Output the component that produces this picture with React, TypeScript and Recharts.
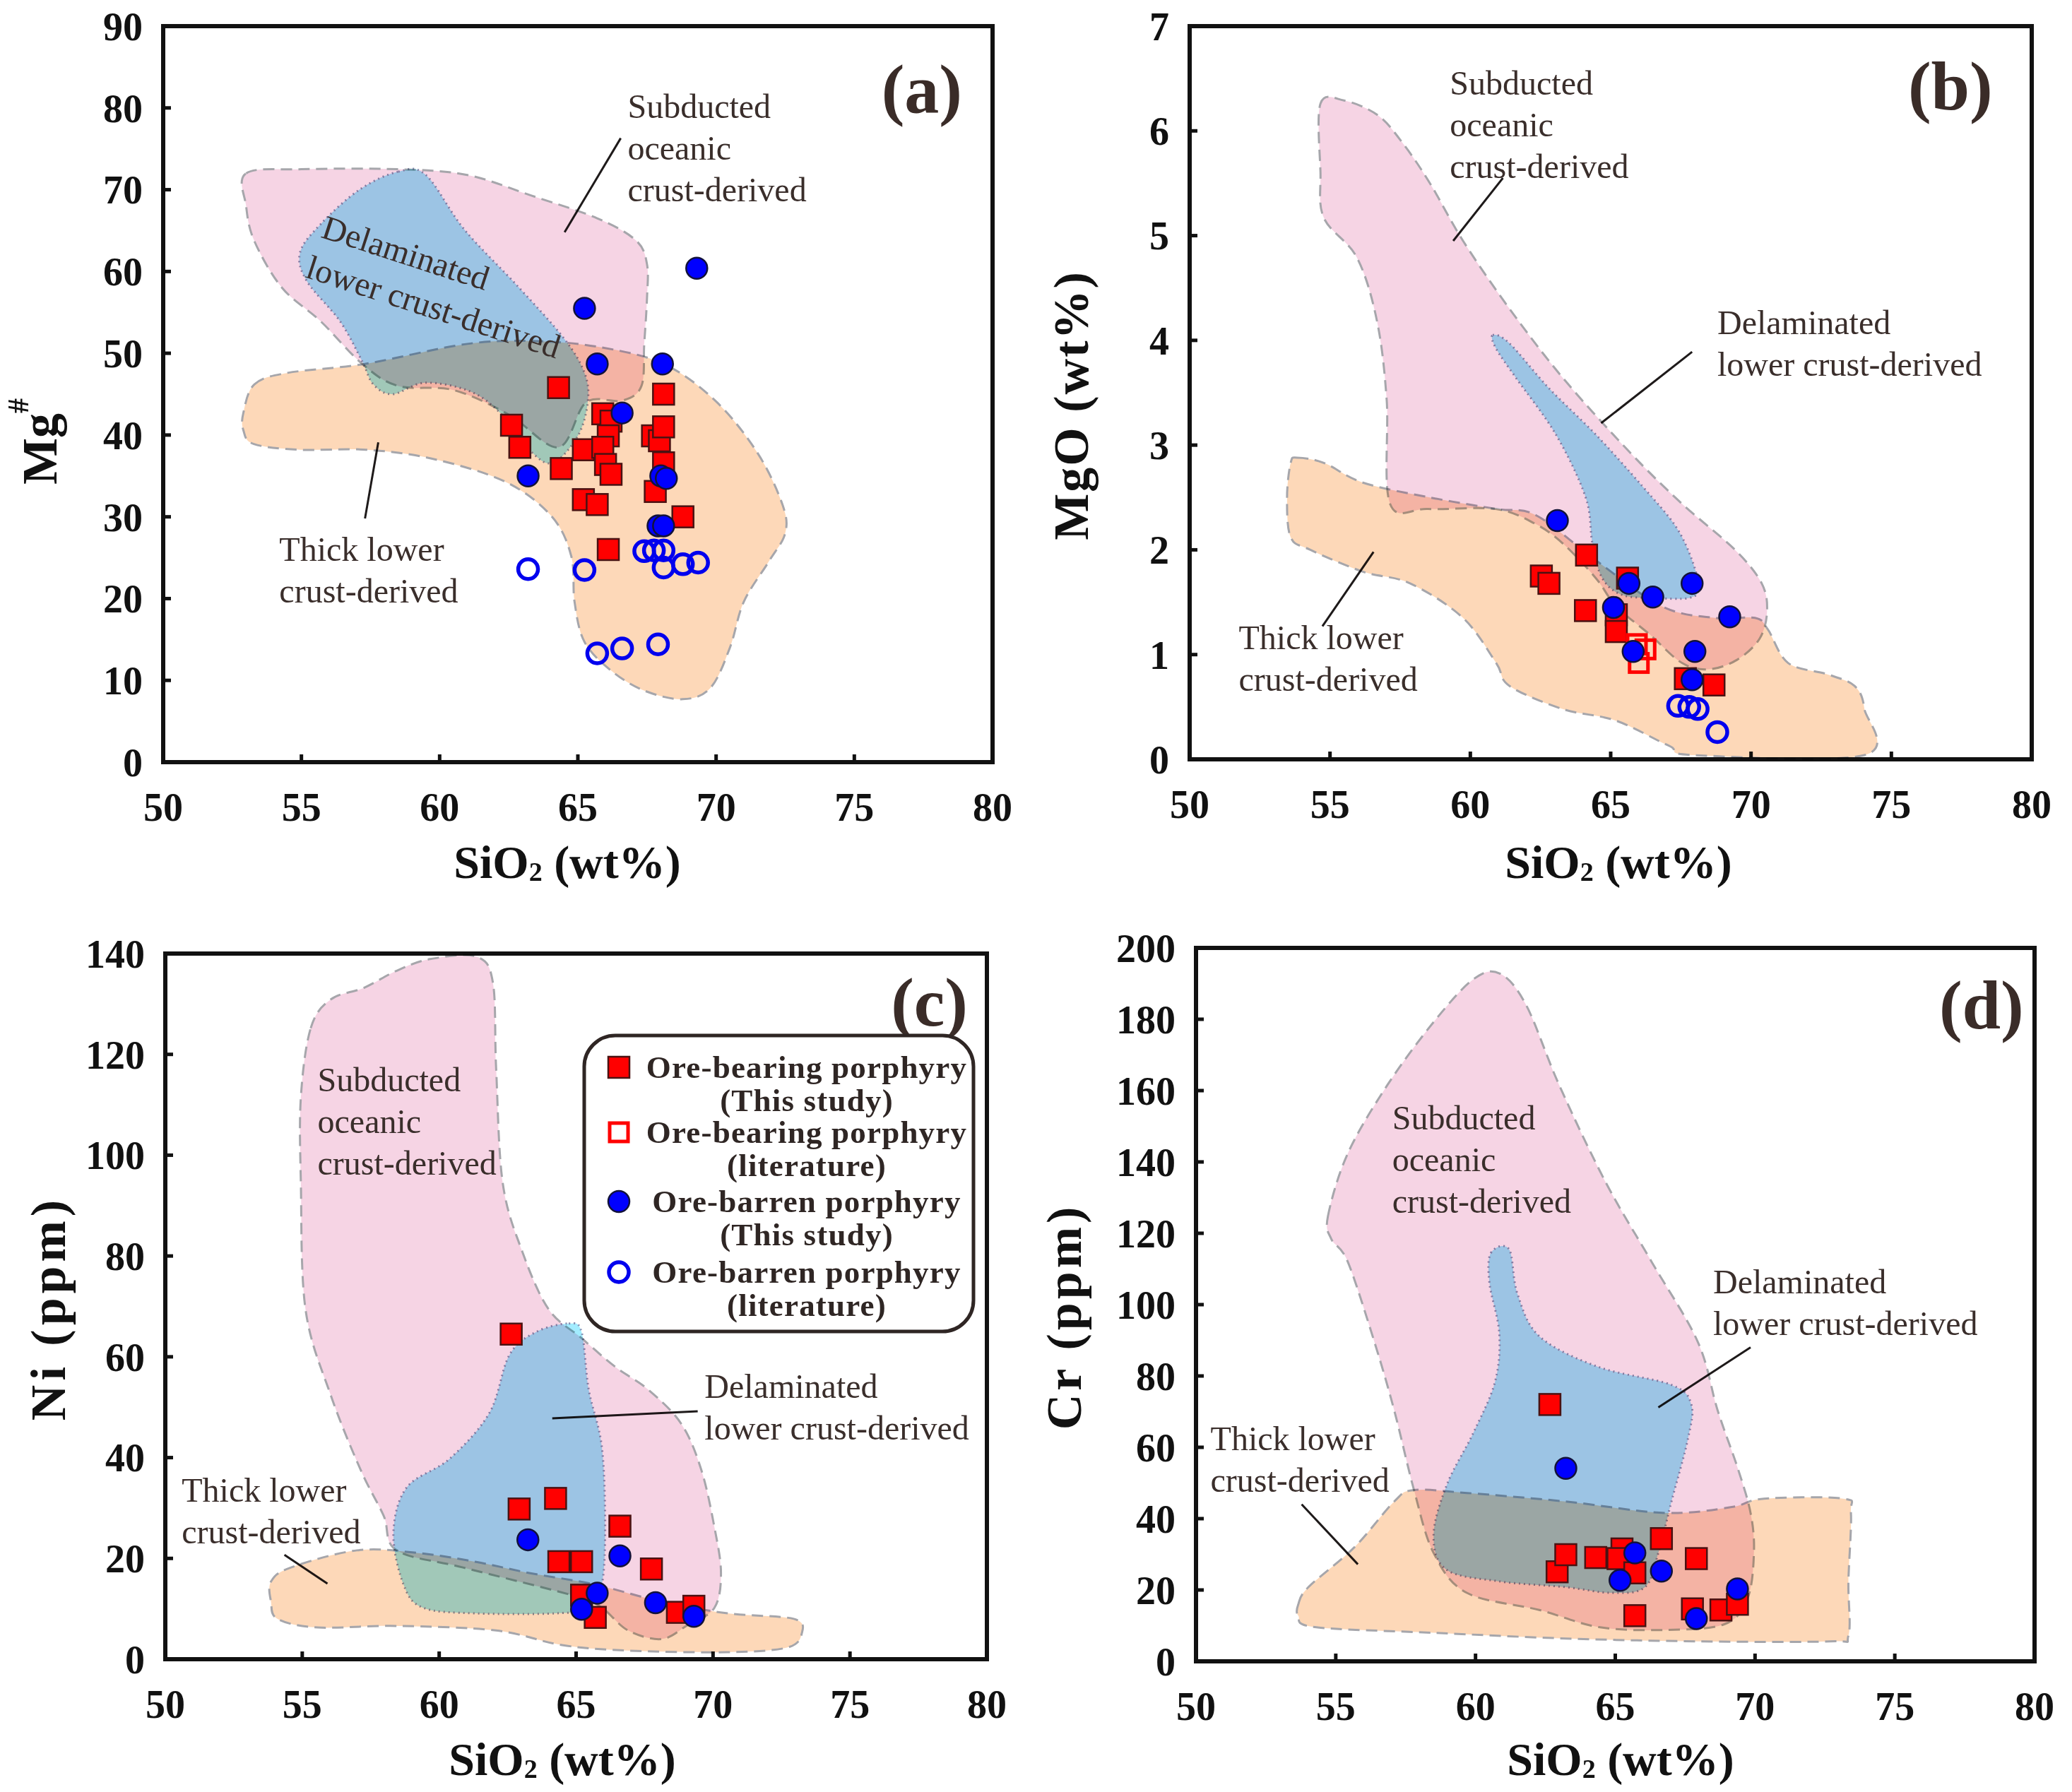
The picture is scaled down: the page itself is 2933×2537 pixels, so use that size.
import React from 'react';
import {
  ScatterChart,
  Scatter,
  XAxis,
  YAxis,
  ReferenceArea,
  ReferenceLine,
  ReferenceDot,
  Legend,
} from 'recharts';

type Pt = [number, number];

const FONT = '"Liberation Serif", "Times New Roman", serif';
const INK = '#111111';
const NOTE_INK = '#3a2e2b';

// ---- axes ----
const SIO2_TICKS = [50, 55, 60, 65, 70, 75, 80];
const MGNUM_TICKS = [0, 10, 20, 30, 40, 50, 60, 70, 80, 90];
const MGO_TICKS = [0, 1, 2, 3, 4, 5, 6, 7];
const NI_TICKS = [0, 20, 40, 60, 80, 100, 120, 140];
const CR_TICKS = [0, 20, 40, 60, 80, 100, 120, 140, 160, 180, 200];

const SERIES_NAMES = [
  'Ore-bearing porphyry (This study)',
  'Ore-bearing porphyry (literature)',
  'Ore-barren porphyry (This study)',
  'Ore-barren porphyry (literature)',
];

// ---- (a) Mg# vs SiO2 ----
const aOreThis: Pt[] = [
  [62.6, 41.2], [62.9, 38.5], [64.3, 45.8], [64.4, 35.9], [65.2, 38.2], [65.2, 32.1],
  [65.7, 31.5], [66.1, 26.0], [65.9, 42.6], [66.2, 41.7], [66.1, 39.9], [65.9, 38.5],
  [66.0, 36.4], [66.2, 35.2], [67.7, 39.9], [67.95, 39.3], [68.1, 41.0], [68.1, 45.0],
  [68.1, 36.6], [67.8, 33.1], [68.8, 30.0],
];
const aOreLit: Pt[] = [];
const aBarThis: Pt[] = [
  [69.3, 60.4], [65.24, 55.5], [65.7, 48.7], [68.06, 48.7], [66.6, 42.7], [63.2, 35.0],
  [68.0, 35.0], [68.2, 34.7], [67.9, 28.9], [68.1, 28.9],
];
const aBarLit: Pt[] = [
  [63.2, 23.6], [65.24, 23.5], [67.4, 25.8], [67.75, 25.9], [68.1, 25.9], [68.1, 23.8],
  [68.8, 24.2], [69.35, 24.4], [65.7, 13.3], [66.6, 13.9], [67.9, 14.4],
];
const aSub: Pt[] = [
  [53.0, 72.0], [55.0, 72.5], [58.5, 72.5], [61.0, 71.8], [63.3, 69.3], [65.7, 66.5],
  [67.1, 63.8], [67.5, 60.9], [67.5, 56.7], [67.4, 51.1], [67.3, 46.0], [66.6, 44.2],
  [65.3, 44.0], [64.3, 38.5], [62.5, 42.5], [60.5, 45.5], [58.5, 46.0], [57.2, 48.7],
  [55.7, 53.9], [54.3, 58.0], [53.3, 63.7], [53.0, 68.0],
];
const aDel: Pt[] = [
  [58.5, 72.2], [59.5, 71.8], [60.9, 65.1], [62.85, 58.1], [64.5, 51.8], [65.24, 47.6],
  [65.36, 44.1], [65.0, 39.9], [64.1, 36.6], [63.3, 38.0], [62.4, 42.0], [61.2, 45.2],
  [59.5, 46.4], [58.3, 45.0], [57.6, 46.2], [57.2, 49.0], [56.4, 53.9], [55.2, 58.8],
  [54.95, 62.3], [55.7, 65.8], [57.1, 70.0],
];
const aThick: Pt[] = [
  [53.3, 46.2], [54.5, 47.6], [57.3, 48.7], [60.9, 51.1], [63.3, 51.5], [65.7, 50.8],
  [68.1, 48.7], [70.0, 44.1], [71.5, 37.8], [72.4, 31.5], [72.5, 28.0], [71.9, 24.5],
  [71.0, 19.6], [70.5, 14.0], [69.8, 9.1], [68.8, 7.7], [67.4, 8.75], [66.2, 11.2],
  [65.24, 14.7], [64.88, 19.6], [64.76, 25.2], [64.04, 30.1], [62.37, 34.3], [59.74, 37.1],
  [57.34, 38.2], [54.95, 38.2], [53.28, 38.9], [52.9, 40.6], [52.9, 42.7],
];

// ---- (b) MgO vs SiO2 ----
const bOreThis: Pt[] = [
  [62.53, 1.75], [62.8, 1.68], [64.14, 1.95], [64.1, 1.42], [65.2, 1.38], [65.2, 1.22],
  [65.6, 1.73], [67.66, 0.77], [68.68, 0.71],
];
const bOreLit: Pt[] = [[65.93, 1.1], [66.24, 1.05], [66.0, 0.92]];
const bBarThis: Pt[] = [
  [63.1, 2.28], [65.65, 1.68], [67.9, 1.68], [66.5, 1.55], [65.1, 1.45], [69.24, 1.36],
  [65.8, 1.03], [68.0, 1.03], [67.9, 0.76],
];
const bBarLit: Pt[] = [[67.4, 0.51], [67.8, 0.5], [68.1, 0.48], [68.8, 0.26]];
const bSub: Pt[] = [
  [54.66, 6.26], [55.5, 6.29], [56.7, 6.15], [57.6, 5.88], [58.56, 5.5], [59.74, 4.95],
  [61.4, 4.3], [63.3, 3.64], [65.65, 2.94], [67.54, 2.44], [69.43, 2.0], [70.38, 1.68],
  [70.57, 1.41], [70.3, 1.15], [69.5, 0.95], [68.5, 0.86], [67.54, 0.92], [66.4, 1.19],
  [65.2, 1.46], [64.47, 1.73], [63.3, 2.06], [62.3, 2.25], [60.9, 2.39], [58.5, 2.39],
  [57.14, 2.44], [57.02, 3.43], [56.67, 4.19], [55.96, 4.79], [54.78, 5.17], [54.66, 5.61],
];
const bDel: Pt[] = [
  [60.8, 4.05], [61.4, 3.97], [62.81, 3.54], [64.47, 3.1], [66.12, 2.61], [67.3, 2.23],
  [67.9, 1.9], [68.13, 1.63], [67.78, 1.54], [66.6, 1.54], [65.41, 1.57], [64.7, 1.73],
  [64.35, 2.06], [64.11, 2.5], [63.05, 3.1], [61.63, 3.64], [60.92, 3.92],
];
const bThick: Pt[] = [
  [53.83, 2.88], [54.78, 2.83], [56.19, 2.64], [58.56, 2.5], [60.92, 2.39], [62.34, 2.33],
  [64.47, 1.9], [66.83, 1.46], [68.72, 1.35], [70.14, 1.35], [70.6, 1.24], [71.32, 0.92],
  [72.74, 0.81], [73.69, 0.7], [74.04, 0.48], [74.04, 0.04], [68.0, 0.04], [67.07, 0.13],
  [65.18, 0.37], [63.29, 0.48], [61.4, 0.7], [60.92, 0.92], [59.74, 1.35], [57.85, 1.68],
  [56.19, 1.79], [54.3, 2.0], [53.6, 2.12], [53.47, 2.5], [53.6, 2.83],
];

// ---- (c) Ni vs SiO2 ----
const cOreThis: Pt[] = [
  [62.63, 64.5], [62.92, 29.8], [64.25, 31.9], [64.37, 19.35], [65.2, 19.35], [66.6, 26.4],
  [67.75, 17.9], [65.2, 12.7], [65.7, 8.3], [68.7, 9.3], [69.3, 10.5],
];
const cOreLit: Pt[] = [];
const cBarThis: Pt[] = [
  [63.24, 23.7], [66.6, 20.5], [65.77, 13.1], [65.2, 9.9], [67.9, 11.2], [69.3, 8.5],
];
const cBarLit: Pt[] = [];
const cSub: Pt[] = [
  [55.31, 125.2], [56.04, 130.9], [57.25, 133.2], [58.45, 136.6], [59.66, 138.9],
  [61.35, 139.4], [61.96, 134.3], [62.08, 117.2], [62.32, 94.5], [63.04, 80.8], [64.0, 69.4],
  [65.2, 63.7], [66.43, 58.0], [67.63, 53.5], [68.84, 46.7], [69.57, 37.6], [70.05, 26.2],
  [70.29, 17.1], [70.05, 10.2], [69.08, 6.8], [68.12, 4.0], [66.9, 5.7], [65.94, 10.2],
  [64.98, 12.5], [60.87, 18.2], [58.45, 21.6], [57.97, 28.5], [57.13, 37.6], [56.04, 52.4],
  [55.12, 69.4], [54.95, 94.5], [54.95, 111.5],
];
const cDel: Pt[] = [
  [64.73, 66.6], [65.2, 64.9], [65.46, 53.5], [65.94, 42.1], [66.06, 26.2], [65.94, 14.8],
  [65.46, 10.2], [64.25, 9.1], [61.35, 9.1], [59.42, 10.2], [58.7, 14.8], [58.33, 25.0],
  [58.82, 34.1], [60.39, 39.8], [61.84, 48.9], [62.56, 60.3], [63.53, 64.9],
];
const cThick: Pt[] = [
  [53.86, 15.4], [54.59, 18.2], [57.0, 21.6], [59.18, 21.1], [61.35, 19.3], [63.29, 17.1],
  [65.7, 14.8], [68.12, 11.4], [70.53, 9.1], [72.95, 8.0], [73.24, 5.1], [72.7, 2.3],
  [70.53, 1.4], [66.9, 1.7], [64.49, 2.8], [62.08, 5.7], [58.45, 6.6], [55.56, 6.3],
  [54.1, 8.0], [53.86, 11.4],
];

// ---- (d) Cr vs SiO2 ----
const dOreThis: Pt[] = [
  [62.66, 72], [62.92, 25.1], [63.23, 29.9], [64.3, 29.1], [65.24, 31.5], [65.1, 28.8],
  [65.7, 24.8], [66.65, 34.4], [67.9, 28.8], [65.7, 12.8], [67.76, 14.7], [68.78, 14.4],
  [69.37, 16.0],
];
const dOreLit: Pt[] = [];
const dBarThis: Pt[] = [
  [63.23, 54.1], [65.7, 30.4], [66.65, 25.3], [65.17, 22.7], [69.37, 20.3], [67.9, 12.0],
];
const dBarLit: Pt[] = [];
const dSub: Pt[] = [
  [54.72, 124.8], [55.43, 142.4], [56.85, 161.6], [58.5, 179.2], [59.92, 191.2],
  [60.87, 192.8], [61.81, 184], [62.99, 161.6], [64.65, 134.4], [66.3, 112], [67.95, 89.6],
  [68.66, 70.4], [69.37, 54.4], [69.84, 41.6], [69.96, 30.4], [69.73, 17.6], [68.9, 10.4],
  [66.77, 8.8], [64.41, 9.6], [62.28, 14.4], [59.69, 19.2], [58.5, 30.4], [57.8, 48.0],
  [57.09, 70.4], [56.38, 89.6], [55.43, 112], [54.84, 118.4],
];
const dDel: Pt[] = [
  [60.55, 114.5], [61.2, 115.5], [61.5, 103], [62.3, 91], [64.41, 82.5], [67.01, 77.5],
  [67.72, 72], [67.6, 62.4], [67.01, 44.8], [66.54, 30.4], [66.06, 20.8], [64.88, 19.2],
  [63.23, 20.8], [60.87, 22.4], [58.98, 25.6], [58.5, 35.2], [58.98, 49.6], [59.92, 64],
  [60.7, 78.4], [60.85, 92], [60.5, 106],
];
const dThick: Pt[] = [
  [53.66, 16], [54.02, 20.8], [55.67, 32], [57.09, 44.8], [57.8, 48], [59.69, 47.2],
  [63.23, 44.8], [66.77, 41.6], [69.13, 43.2], [70.32, 45.6], [73.15, 45.6], [73.43, 41.6],
  [73.34, 22.4], [73.34, 7.2], [72.68, 5.6], [67.95, 5.6], [63.23, 6.4], [58.5, 8],
  [54.25, 9.6], [53.66, 12.8],
];

// ---------------- helpers ----------------
const toData = (pts: Pt[]) => pts.map(([x, y]) => ({ x, y }));

// smooth closed outline through the field vertices (already in pixels)
function closedPath(pts: { x: number; y: number }[]) {
  const n = pts.length;
  if (!n) return '';
  let d = `M${pts[0].x},${pts[0].y}`;
  for (let i = 0; i < n; i++) {
    const p0 = pts[(i - 1 + n) % n];
    const p1 = pts[i];
    const p2 = pts[(i + 1) % n];
    const p3 = pts[(i + 2) % n];
    const c1x = p1.x + (p2.x - p0.x) / 6;
    const c1y = p1.y + (p2.y - p0.y) / 6;
    const c2x = p2.x - (p3.x - p1.x) / 6;
    const c2y = p2.y - (p3.y - p1.y) / 6;
    d += ` C${c1x},${c1y} ${c2x},${c2y} ${p2.x},${p2.y}`;
  }
  return d + 'Z';
}

const FIELD_STYLE = {
  sub: { fill: '#f6d4e4', stroke: '#a6a6ab', dash: '16 9', alpha: 1 },
  del: { fill: '#a2ecff', stroke: '#8791b3', dash: '2 5', alpha: 1 },
  thick: { fill: '#fdd5b2', stroke: '#a6a6ab', dash: '16 9', alpha: 0.92 },
};

const fieldLine = (s: { fill: string; stroke: string; dash: string; alpha: number }) => (lp: any) => (
  <path
    d={closedPath(lp.points || [])}
    fill={s.fill}
    fillOpacity={s.alpha}
    stroke={s.stroke}
    strokeWidth={3}
    strokeDasharray={s.dash}
    style={{ mixBlendMode: 'multiply' }}
  />
);

const noDot = () => <g />;

type Kind = 'sqFill' | 'sqOpen' | 'ciFill' | 'ciOpen';
const KINDS: Kind[] = ['sqFill', 'sqOpen', 'ciFill', 'ciOpen'];

function marker(kind: Kind, cx: number, cy: number) {
  if (kind === 'sqFill')
    return <rect x={cx - 15} y={cy - 15} width={30} height={30} fill="#ff0000" stroke="#4a1212" strokeWidth={2.5} />;
  if (kind === 'sqOpen')
    return <rect x={cx - 13} y={cy - 13} width={26} height={26} fill="none" stroke="#ff0000" strokeWidth={5} />;
  if (kind === 'ciFill')
    return <circle cx={cx} cy={cy} r={15} fill="#0000ff" stroke="#12123a" strokeWidth={2.5} />;
  return <circle cx={cx} cy={cy} r={14} fill="none" stroke="#0000ee" strokeWidth={5.5} />;
}

const LEGEND_ROWS = [[48, 95], [140, 187], [238, 285], [338, 385]];

function LegendBox() {
  return (
    <svg width={557} height={425} style={{ display: 'block' }}>
      <rect x={3} y={3} width={551} height={419} rx={44} fill="#ffffff" stroke="#2f2624" strokeWidth={5} />
      {SERIES_NAMES.map((name, i) => {
        const cut = name.indexOf(' (');
        const l1 = name.slice(0, cut);
        const l2 = name.slice(cut + 1);
        const [y1, y2] = LEGEND_ROWS[i];
        return (
          <g key={name}>
            {marker(KINDS[i], 52, y1)}
            {[l1, l2].map((t, j) => (
              <text
                key={j}
                x={318}
                y={j ? y2 : y1}
                textAnchor="middle"
                dominantBaseline="central"
                fontFamily={FONT}
                fontWeight={700}
                fontSize={45}
                letterSpacing={1.2}
                fill="#2f2624"
              >
                {t}
              </text>
            ))}
          </g>
        );
      })}
    </svg>
  );
}

type Note = { at: Pt; lines: string[]; rotate?: number; anchor?: 'start' | 'middle' };

const noteShape = (n: Note) => (p: any) => (
  <g>
    {n.lines.map((l, i) => (
      <text
        key={i}
        x={p.cx}
        y={p.cy + i * 59}
        textAnchor={n.anchor || 'start'}
        dominantBaseline="central"
        fontFamily={FONT}
        fontSize={48}
        fill={NOTE_INK}
        transform={n.rotate ? `rotate(${n.rotate} ${p.cx} ${p.cy})` : undefined}
      >
        {l}
      </text>
    ))}
  </g>
);

const tagShape = (t: string) => (p: any) => (
  <text
    x={p.cx}
    y={p.cy}
    textAnchor="middle"
    dominantBaseline="central"
    fontFamily={FONT}
    fontWeight={700}
    fontSize={98}
    fill="#3a2c28"
  >
    {t}
  </text>
);

const xTitle = (cx: number, cy: number) => () => (
  <text x={cx} y={cy} textAnchor="middle" dominantBaseline="central" fontFamily={FONT} fontWeight={700} fontSize={66} fill={INK}>
    SiO<tspan fontSize={38} dy={14}>2</tspan>
    <tspan dy={-14}> (wt%)</tspan>
  </text>
);

const yTitle = (cx: number, cy: number, body: React.ReactNode, spacing = 0) => () => (
  <text
    x={cx}
    y={cy}
    textAnchor="middle"
    dominantBaseline="central"
    fontFamily={FONT}
    fontWeight={700}
    fontSize={70}
    letterSpacing={spacing}
    fill={INK}
    transform={`rotate(-90 ${cx} ${cy})`}
  >
    {body}
  </text>
);

type Panel = {
  id: string;
  left: number;
  top: number;
  width: number;
  height: number;
  mTop: number;
  mRight: number;
  yW: number;
  xH: number;
  yMax: number;
  yTicks: number[];
  fields: Pt[][];
  series: Pt[][];
  notes: Note[];
  leaders: [Pt, Pt][];
  tag: { text: string; at: Pt };
  xTitle: () => React.ReactNode;
  yTitle: () => React.ReactNode;
  legend?: boolean;
};

const SUB_LINES = ['Subducted', 'oceanic', 'crust-derived'];
const DEL_LINES = ['Delaminated', 'lower crust-derived'];
const THICK_LINES = ['Thick lower', 'crust-derived'];

const PANELS: Panel[] = [
  {
    id: 'a', left: 0, top: 0, width: 1466, height: 1268, mTop: 37, mRight: 61, yW: 231, xH: 189,
    yMax: 90, yTicks: MGNUM_TICKS,
    fields: [aSub, aDel, aThick],
    series: [aOreThis, aOreLit, aBarThis, aBarLit],
    notes: [
      { at: [66.8, 80.2], lines: SUB_LINES },
      { at: [58.78, 62.3], lines: ['Delaminated'], rotate: 18, anchor: 'middle' },
      { at: [59.78, 55.7], lines: ['lower crust-derived'], rotate: 18, anchor: 'middle' },
      { at: [54.2, 26.0], lines: THICK_LINES },
    ],
    leaders: [
      [[64.52, 64.8], [66.55, 76.3]],
      [[57.3, 29.8], [57.78, 39.1]],
    ],
    tag: { text: '(a)', at: [77.44, 82.3] },
    xTitle: xTitle(803, 1220),
    yTitle: yTitle(56, 625, <>Mg<tspan fontSize={42} dy={-30}>#</tspan></>),
  },
  {
    id: 'b', left: 1466, top: 0, width: 1467, height: 1268, mTop: 37, mRight: 57, yW: 218, xH: 193,
    yMax: 7, yTicks: MGO_TICKS,
    fields: [bSub, bDel, bThick],
    series: [bOreThis, bOreLit, bBarThis, bBarLit],
    notes: [
      { at: [59.27, 6.46], lines: SUB_LINES },
      { at: [68.8, 4.17], lines: DEL_LINES },
      { at: [51.75, 1.16], lines: THICK_LINES },
    ],
    leaders: [
      [[59.39, 4.95], [61.16, 5.55]],
      [[64.66, 3.21], [67.9, 3.89]],
      [[54.73, 1.27], [56.55, 1.98]],
    ],
    tag: { text: '(b)', at: [77.1, 6.43] },
    xTitle: xTitle(825, 1220),
    yTitle: yTitle(50, 574, 'MgO (wt%)', 2),
  },
  {
    id: 'c', left: 0, top: 1268, width: 1466, height: 1269, mTop: 82, mRight: 69, yW: 234, xH: 188,
    yMax: 140, yTicks: NI_TICKS,
    fields: [cSub, cDel, cThick],
    series: [cOreThis, cOreLit, cBarThis, cBarLit],
    notes: [
      { at: [55.56, 115], lines: SUB_LINES },
      { at: [69.69, 54.1], lines: DEL_LINES },
      { at: [50.6, 33.6], lines: THICK_LINES },
    ],
    leaders: [
      [[64.13, 47.8], [69.44, 49.2]],
      [[55.92, 15.0], [54.35, 20.7]],
    ],
    tag: { text: '(c)', at: [77.9, 130.3] },
    xTitle: xTitle(796, 1222),
    yTitle: yTitle(68, 584, 'Ni (ppm)', 6),
    legend: true,
  },
  {
    id: 'd', left: 1466, top: 1268, width: 1467, height: 1269, mTop: 74, mRight: 53, yW: 227, xH: 185,
    yMax: 200, yTicks: CR_TICKS,
    fields: [dSub, dDel, dThick],
    series: [dOreThis, dOreLit, dBarThis, dBarLit],
    notes: [
      { at: [57.02, 152.3], lines: SUB_LINES },
      { at: [68.5, 106.4], lines: DEL_LINES },
      { at: [50.52, 62.4], lines: THICK_LINES },
    ],
    leaders: [
      [[66.54, 71.2], [69.84, 88]],
      [[55.79, 27.2], [53.78, 44]],
    ],
    tag: { text: '(d)', at: [78.1, 184] },
    xTitle: xTitle(828, 1222),
    yTitle: yTitle(40, 596, 'Cr (ppm)', 5),
  },
];

const FIELD_KEYS: (keyof typeof FIELD_STYLE)[] = ['sub', 'del', 'thick'];

const tickStyle = { fill: INK, fontSize: 56, fontWeight: 700, fontFamily: FONT };

function PanelChart({ p }: { p: Panel }) {
  return (
    <div style={{ position: 'absolute', left: p.left, top: p.top }}>
      <ScatterChart
        width={p.width}
        height={p.height}
        margin={{ top: p.mTop, right: p.mRight, bottom: 0, left: 0 }}
      >
        <XAxis
          type="number"
          dataKey="x"
          domain={[50, 80]}
          ticks={SIO2_TICKS}
          interval={0}
          height={p.xH}
          axisLine={false}
          tickSize={-11}
          tickMargin={54}
          tickLine={{ stroke: INK, strokeWidth: 5 }}
          tick={tickStyle}
          label={{ content: p.xTitle }}
        />
        <YAxis
          type="number"
          dataKey="y"
          domain={[0, p.yMax]}
          ticks={p.yTicks}
          interval={0}
          width={p.yW}
          axisLine={false}
          tickSize={-11}
          tickMargin={40}
          tickLine={{ stroke: INK, strokeWidth: 5 }}
          tick={tickStyle}
          label={{ content: p.yTitle }}
        />
        {p.fields.map((f, i) => (
          <Scatter
            key={`field-${p.id}-${i}`}
            data={toData(f)}
            shape={noDot}
            line={fieldLine(FIELD_STYLE[FIELD_KEYS[i]])}
            lineType="joint"
            legendType="none"
            isAnimationActive={false}
          />
        ))}
        {p.series.map((s, i) => (
          <Scatter
            key={`series-${p.id}-${i}`}
            name={SERIES_NAMES[i]}
            data={toData(s)}
            shape={(sp: any) => marker(KINDS[i], sp.cx, sp.cy)}
            isAnimationActive={false}
          />
        ))}
        {p.leaders.map((seg, i) => (
          <ReferenceLine
            key={`lead-${p.id}-${i}`}
            segment={[{ x: seg[0][0], y: seg[0][1] }, { x: seg[1][0], y: seg[1][1] }]}
            stroke="#1e1a1a"
            strokeWidth={3}
          />
        ))}
        {p.notes.map((n, i) => (
          <ReferenceDot
            key={`note-${p.id}-${i}`}
            x={n.at[0]}
            y={n.at[1]}
            r={1}
            fill="none"
            stroke="none"
            shape={noteShape(n)}
          />
        ))}
        <ReferenceDot x={p.tag.at[0]} y={p.tag.at[1]} r={1} fill="none" stroke="none" shape={tagShape(p.tag.text)} />
        <ReferenceArea
          x1={50}
          x2={80}
          y1={0}
          y2={p.yMax}
          fill="none"
          fillOpacity={0}
          stroke={INK}
          strokeWidth={6}
          ifOverflow="visible"
        />
        {p.legend && (
          <Legend
            layout="horizontal"
            verticalAlign="middle"
            align="center"
            content={() => <LegendBox />}
            wrapperStyle={{ left: 824, top: 195, width: 557, height: 425 }}
          />
        )}
      </ScatterChart>
    </div>
  );
}

export default function App() {
  return (
    <div style={{ position: 'absolute', left: 0, top: 0, width: 2933, height: 2537, background: '#ffffff' }}>
      {PANELS.map((p) => (
        <PanelChart key={p.id} p={p} />
      ))}
    </div>
  );
}
